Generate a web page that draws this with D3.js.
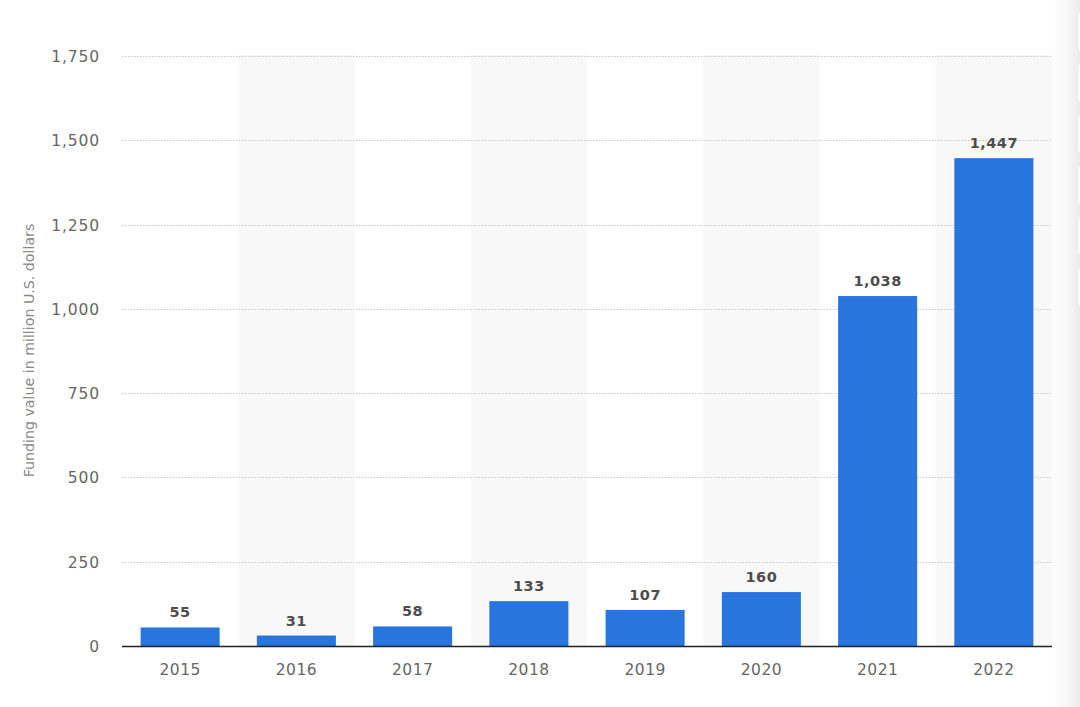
<!DOCTYPE html>
<html>
<head>
<meta charset="utf-8">
<script src="https://cdn.jsdelivr.net/npm/d3@7"></script>
<style>
html,body{margin:0;padding:0;background:#fff;}
svg{display:block;}
</style>
</head>
<body>
<svg id="chart" width="1080" height="707"></svg>
<script>
const years = ["2015","2016","2017","2018","2019","2020","2021","2022"];
const funding = [55, 31, 58, 133, 107, 160, 1038, 1447];
const yTicks = [0, 250, 500, 750, 1000, 1250, 1500, 1750];
const yTitle = "Funding value in million U.S. dollars";

const svg = d3.select("#chart");
const W = 1080, H = 707;
const m = {left: 122, right: 1052, top: 55, bottom: 646};

const defs = svg.append("defs");
const grad = defs.append("linearGradient").attr("id","edge").attr("x1","0").attr("x2","1");
grad.append("stop").attr("offset","0").attr("stop-color","#ffffff").attr("stop-opacity",0);
grad.append("stop").attr("offset","1").attr("stop-color","#ececec");

const x = d3.scaleBand().domain(years).range([m.left, m.right]).paddingInner(0.32).paddingOuter(0.16);
const xb = d3.scaleBand().domain(years).range([m.left, m.right]).padding(0);
const y = d3.scaleLinear().domain([0, 1750]).range([m.bottom, m.top + 1]);

// right edge shadow
svg.append("rect").attr("x", 1040).attr("y", 0).attr("width", 40).attr("height", H).attr("fill", "url(#edge)");

// alternating bands
svg.append("g").selectAll("rect").data(years.filter((d,i)=>i%2===1)).join("rect")
  .attr("x", d => xb(d)).attr("width", xb.bandwidth())
  .attr("y", m.top).attr("height", m.bottom - m.top)
  .attr("fill", "#f8f8f8");

// gridlines
svg.append("g").selectAll("line").data(yTicks.filter(d => d > 0)).join("line")
  .attr("x1", m.left).attr("x2", m.right)
  .attr("y1", d => Math.round(y(d)) + 0.5).attr("y2", d => Math.round(y(d)) + 0.5)
  .attr("stroke", "#c8c8c8").attr("stroke-width", 1).attr("stroke-dasharray", "1.5,1.5");

// y axis labels
const yAxis = d3.axisLeft(y).tickValues(yTicks).tickFormat(d3.format(",")).tickSize(0).tickPadding(0);
const ga = svg.append("g").attr("transform", `translate(100,0)`).call(yAxis);
ga.select(".domain").remove();
ga.selectAll("text").attr("font-family", "DejaVu Sans, sans-serif").attr("font-size", "15.5px")
  .attr("fill", "#666").attr("letter-spacing", "0.9px").attr("dy", "0.35em");

// x axis labels
const xAxis = d3.axisBottom(x).tickSize(0).tickPadding(0);
const gx = svg.append("g").attr("transform", `translate(0,${m.bottom})`).call(xAxis);
gx.select(".domain").remove();
gx.selectAll("text").attr("font-family", "DejaVu Sans, sans-serif").attr("font-size", "15.5px")
  .attr("fill", "#666").attr("letter-spacing", "0.4px").attr("y", 29).attr("dy", 0);

// bars
svg.append("g").selectAll("rect").data(years).join("rect")
  .attr("x", d => x(d)).attr("width", x.bandwidth())
  .attr("y", (d,i) => y(funding[i])).attr("height", (d,i) => m.bottom - y(funding[i]))
  .attr("fill", "#2876dd");

// value labels
svg.append("g").selectAll("text").data(years).join("text")
  .attr("x", d => x(d) + x.bandwidth()/2)
  .attr("y", (d,i) => y(funding[i]) - 10)
  .attr("text-anchor", "middle")
  .attr("font-family", "DejaVu Sans, sans-serif").attr("font-weight", "bold").attr("font-size", "14.5px")
  .attr("fill", "#4d4d4d").attr("letter-spacing", "0.5px")
  .text((d,i) => d3.format(",")(funding[i]));

// baseline
svg.append("line").attr("x1", m.left).attr("x2", m.right)
  .attr("y1", m.bottom + 0.5).attr("y2", m.bottom + 0.5)
  .attr("stroke", "#222").attr("stroke-width", 1.5);

// y title
svg.append("text")
  .attr("transform", `translate(34,${(m.top + m.bottom)/2}) rotate(-90)`)
  .attr("text-anchor", "middle")
  .attr("font-family", "DejaVu Sans, sans-serif").attr("font-size", "14.2px")
  .attr("fill", "#8a8a8a")
  .text(yTitle);

// right edge cards
svg.append("g").selectAll("rect").data(d3.range(6)).join("rect")
  .attr("x", 1078).attr("y", d => 12 + d * 51).attr("width", 12).attr("height", 40)
  .attr("rx", 4).attr("fill", "#ffffff").attr("stroke", "#eeeeee");
</script>
</body>
</html>
